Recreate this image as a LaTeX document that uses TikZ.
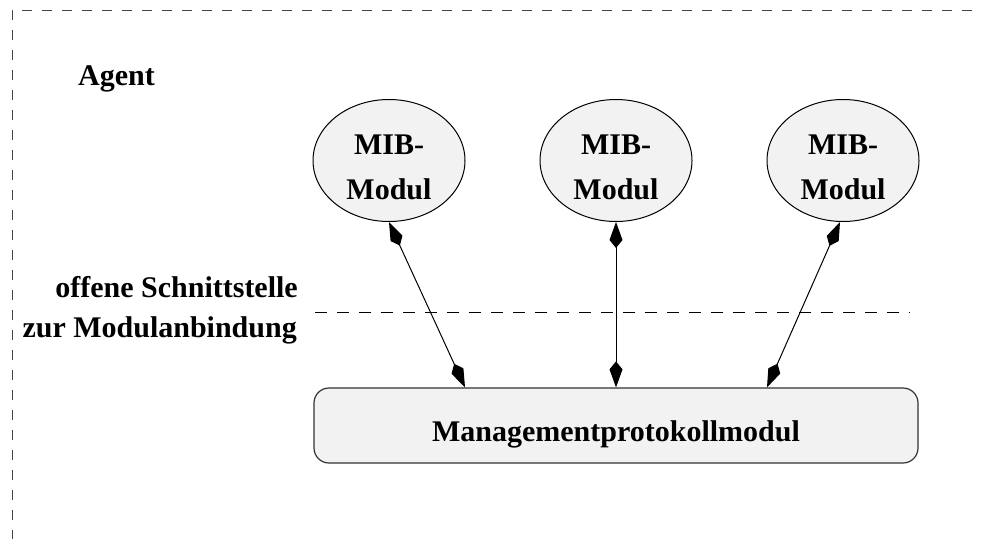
\documentclass[tikz,border=0pt]{standalone}
\usepackage{fontspec}
\setmainfont{Liberation Serif}
\usetikzlibrary{arrows.meta,shapes.geometric}
\definecolor{boxfill}{HTML}{F2F2F2}
\definecolor{framegray}{HTML}{444444}
\tikzset{
  lbl/.style={font=\fontsize{30}{45}\selectfont\bfseries, inner sep=0pt},
  mib/.style={ellipse, draw=black, line width=1pt, fill=boxfill,
    minimum width=152pt, minimum height=122pt, inner sep=0pt},
  protobox/.style={draw=black!80, line width=1.2pt, fill=boxfill,
    rounded corners=15pt, minimum width=604pt, minimum height=75pt, inner sep=0pt},
  kitetip/.tip={Kite[length=26pt,width=13pt,inset=8pt]},
  link/.style={line width=1pt, kitetip-kitetip},
  frameline/.style={draw=framegray, line width=1pt, dash pattern=on 10pt off 10pt},
  sepline/.style={draw=black, line width=0.9pt, dash pattern=on 12pt off 10pt},
}
\begin{document}
\begin{tikzpicture}[x=1pt, y=-1pt]
  \useasboundingbox (0,0) rectangle (982,538);
  \clip (0,0) rectangle (982,538);
  \fill[white] (0,0) rectangle (982,538);

  % agent frame (continues past the page edges)
  \draw[frameline] (12,560) -- (12,10) -- (1000,10);
  \node[lbl, anchor=base west] (agent) at (78,85) {Agent};

  % MIB modules
  \node[mib] (m1) at (389,160.5) {};
  \node[mib] (m2) at (616,160.5) {};
  \node[mib] (m3) at (843,160.5) {};
  \foreach \n in {m1,m2,m3}
    \node[lbl, align=center, anchor=base] (\n t) at ([yshift=-39pt]\n.center) {MIB-\\Modul};

  % protocol module
  \node[protobox] (proto) at (616,425.5) {};
  \node[lbl, anchor=base] (protot) at (616,441.5) {Managementprotokollmodul};

  % interface line
  \coordinate (sepL) at (315,312);
  \coordinate (sepR) at (910,312);
  \draw[sepline] (sepL) -- (sepR);
  \node[lbl, anchor=base east] (if1) at (298,297) {offene Schnittstelle};
  \node[lbl, anchor=base east] (if2) at (297,337) {zur Modulanbindung};

  % links between modules
  \draw[link] (m1.south) -- ([xshift=-151pt]proto.north);
  \draw[link] (m2.south) -- (proto.north);
  \draw[link] ([xshift=-3pt]m3.south) -- ([xshift=151pt]proto.north);
\end{tikzpicture}
\end{document}
